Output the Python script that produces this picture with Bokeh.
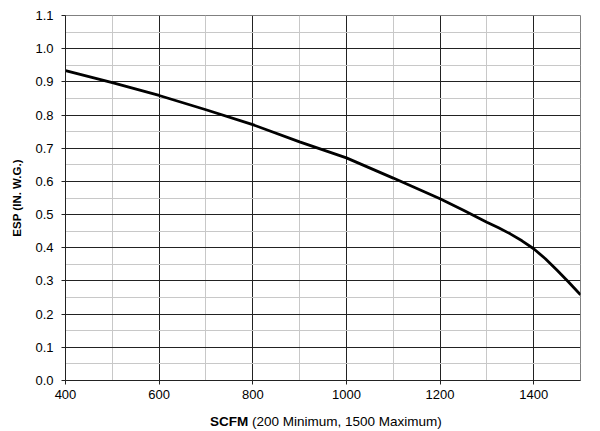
from bokeh.plotting import figure
from bokeh.models import Range1d, SingleIntervalTicker, CustomJSTickFormatter, Div
from bokeh.layouts import column
from bokeh.embed import file_html
from bokeh.resources import INLINE

# Data
scfm = [400, 500, 600, 700, 800, 900, 1000, 1100, 1200, 1250, 1300, 1325, 1350, 1375,
        1400, 1425, 1450, 1475, 1500]
esp = [0.934, 0.898, 0.859, 0.816, 0.771, 0.719, 0.671, 0.610, 0.548, 0.513, 0.477, 0.460,
       0.442, 0.421, 0.397, 0.367, 0.332, 0.296, 0.258]

x_label_bold = "SCFM"
x_label_rest = "(200 Minimum, 1500 Maximum)"
y_label = "ESP (IN. W.G.)"

X0, X1 = 400, 1500
Y0, Y1 = 0.0, 1.1
FL, FT = 65, 15          # frame left/top in pixels
FW, FH = 515, 365
FONT = "Liberation Sans"

p = figure(
    output_backend="svg", toolbar_location=None,
    frame_width=FW, frame_height=FH,
    min_border_left=FL, min_border_top=FT, min_border_right=12, min_border_bottom=25,
    x_range=Range1d(X0, X1), y_range=Range1d(Y0, Y1),
    background_fill_color="white", border_fill_color="white",
)
p.outline_line_color = "#808080"
p.outline_line_width = 1

xt = SingleIntervalTicker(interval=200, num_minor_ticks=2)
yt = SingleIntervalTicker(interval=0.1, num_minor_ticks=2)
p.xaxis.ticker = xt
p.yaxis.ticker = yt
p.xgrid.ticker = xt
p.ygrid.ticker = yt

for g in (p.xgrid, p.ygrid):
    g.grid_line_color = "#222222"
    g.grid_line_width = 1
    g.minor_grid_line_color = "#c8c8c8"
    g.minor_grid_line_width = 1

p.yaxis.formatter = CustomJSTickFormatter(code="return tick.toFixed(1);")

for ax in (p.xaxis, p.yaxis):
    ax.axis_line_color = "#222222"
    ax.major_tick_line_color = "#222222"
    ax.major_tick_out = 4
    ax.major_tick_in = 0
    ax.minor_tick_out = 0
    ax.minor_tick_in = 0
    ax.major_label_text_font = FONT
    ax.major_label_text_font_size = "13px"
    ax.major_label_text_color = "#000000"
p.yaxis.major_label_standoff = 8
p.xaxis.major_label_standoff = 5

p.yaxis.axis_label = y_label
p.yaxis.axis_label_text_font = FONT
p.yaxis.axis_label_text_font_size = "11.5px"
p.yaxis.axis_label_text_font_style = "bold"
p.yaxis.axis_label_text_color = "black"
p.yaxis.axis_label_standoff = 9

p.line(scfm, esp, line_color="black", line_width=2.8)

xlabel = Div(
    text=(f'<div style="font-family:\'{FONT}\';font-size:13.5px;line-height:16px;'
          f'white-space:nowrap;padding-left:210px;padding-top:9px;color:#000;">'
          f'<b>{x_label_bold}</b> {x_label_rest}</div>'),
    width=FL + FW + 12, height=23, margin=0,
)

layout = column(p, xlabel, spacing=0)
open("out.html", "w").write(file_html(layout, INLINE))
